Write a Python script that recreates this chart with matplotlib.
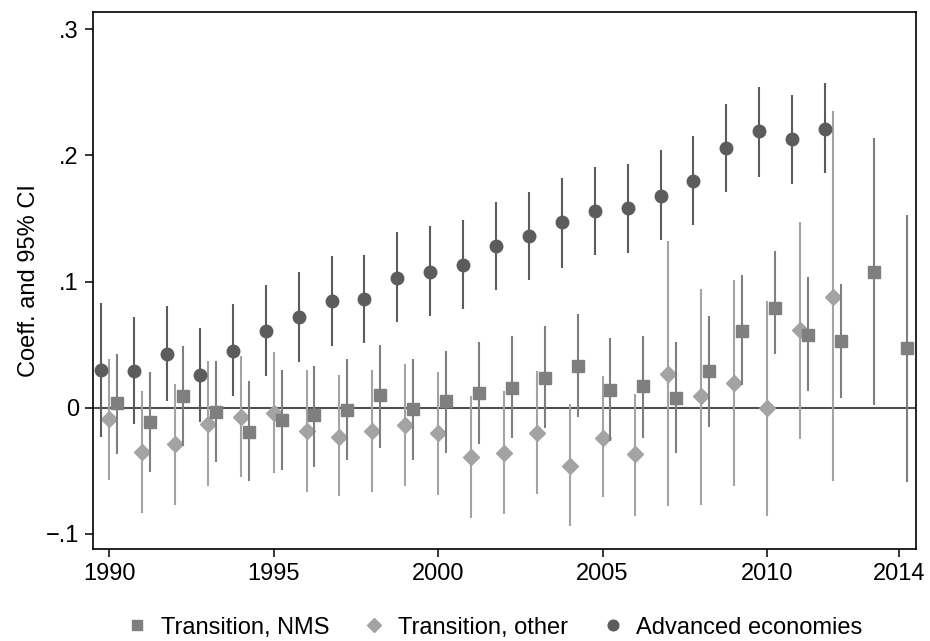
import numpy as np
import matplotlib
matplotlib.use('agg')
import matplotlib.pyplot as plt

plt.rcParams['font.family'] = ['Liberation Sans', 'DejaVu Sans']

# Advanced economies (circles), 1990-2012
adv_years = np.arange(1990, 2013)
adv_coef = [0.030, 0.029, 0.043, 0.026, 0.045, 0.061, 0.072, 0.085, 0.086, 0.103,
            0.108, 0.113, 0.128, 0.136, 0.147, 0.156, 0.158, 0.168, 0.180, 0.206,
            0.219, 0.213, 0.221]
adv_hi = [0.083, 0.072, 0.081, 0.063, 0.082, 0.097, 0.108, 0.120, 0.121, 0.139,
          0.144, 0.149, 0.163, 0.171, 0.182, 0.191, 0.193, 0.204, 0.215, 0.241,
          0.254, 0.248, 0.257]
adv_lo = [-0.023, -0.013, 0.005, -0.011, 0.009, 0.025, 0.036, 0.049, 0.051, 0.068,
          0.073, 0.078, 0.093, 0.101, 0.111, 0.121, 0.123, 0.133, 0.145, 0.171,
          0.183, 0.177, 0.186]

# Transition, NMS (squares), 1990-2014
nms_years = np.arange(1990, 2015)
nms_coef = [0.004, -0.011, 0.009, -0.003, -0.019, -0.010, -0.006, -0.002, 0.010, -0.001,
            0.005, 0.012, 0.016, 0.024, 0.033, 0.014, 0.017, 0.008, 0.029, 0.061,
            0.079, 0.058, 0.053, 0.108, 0.047]
nms_hi = [0.043, 0.028, 0.049, 0.037, 0.021, 0.030, 0.033, 0.039, 0.050, 0.039,
          0.045, 0.052, 0.057, 0.065, 0.074, 0.055, 0.057, 0.052, 0.073, 0.105,
          0.124, 0.104, 0.098, 0.214, 0.153]
nms_lo = [-0.037, -0.051, -0.030, -0.043, -0.058, -0.049, -0.047, -0.041, -0.032, -0.041,
          -0.036, -0.029, -0.024, -0.016, -0.007, -0.026, -0.024, -0.036, -0.015, 0.018,
          0.043, 0.013, 0.008, 0.002, -0.059]

# Transition, other (diamonds), 1990-2012
oth_years = np.arange(1990, 2013)
oth_coef = [-0.009, -0.035, -0.029, -0.013, -0.007, -0.004, -0.018, -0.023, -0.018, -0.014,
            -0.020, -0.039, -0.036, -0.020, -0.046, -0.024, -0.037, 0.027, 0.009, 0.020,
            0.000, 0.062, 0.088]
oth_hi = [0.039, 0.013, 0.019, 0.037, 0.041, 0.044, 0.030, 0.026, 0.030, 0.035,
          0.028, 0.009, 0.013, 0.029, 0.003, 0.025, 0.011, 0.132, 0.094, 0.101,
          0.085, 0.147, 0.235]
oth_lo = [-0.057, -0.083, -0.077, -0.062, -0.055, -0.052, -0.067, -0.070, -0.067, -0.062,
          -0.069, -0.087, -0.084, -0.068, -0.094, -0.071, -0.086, -0.078, -0.077, -0.062,
          -0.086, -0.025, -0.058]

xticks = [1990, 1995, 2000, 2005, 2010, 2014]
yticks = [-0.1, 0, 0.1, 0.2, 0.3]
ytick_labels = ['\u2212.1', '0', '.1', '.2', '.3']

fig = plt.figure(figsize=(9.3, 6.41), dpi=100)
ax = fig.add_axes([0.0997, 0.1435, 0.885, 0.8373])

c_nms = '#7f7f7f'
c_oth = '#a3a3a3'
c_adv = '#5c5c5c'

ax.axhline(0, color='#505050', lw=1.5, zorder=1)

def draw(years, coef, lo, hi, shift, marker, ms, color, z, label):
    x = np.asarray(years) + shift
    ax.vlines(x, lo, hi, color=color, lw=1.5, zorder=z)
    return ax.plot(x, coef, ls='none', marker=marker, ms=ms, color=color,
                   mec=color, zorder=z + 0.5, label=label)[0]

h_oth = draw(oth_years, oth_coef, oth_lo, oth_hi, 0.0, 'D', 8.0, c_oth, 2, 'Transition, other')
h_nms = draw(nms_years, nms_coef, nms_lo, nms_hi, 0.24, 's', 8.6, c_nms, 3, 'Transition, NMS')
h_adv = draw(adv_years, adv_coef, adv_lo, adv_hi, -0.24, 'o', 9.0, c_adv, 4, 'Advanced economies')

ax.set_xlim(1989.5, 2014.52)
ax.set_ylim(-0.1119, 0.3134)
ax.set_xticks(xticks)
ax.set_xticklabels([str(t) for t in xticks])
ax.set_yticks(yticks)
ax.set_yticklabels(ytick_labels)
ax.tick_params(labelsize=17, length=6, width=1.1, direction='out', pad=4)
for s in ax.spines.values():
    s.set_linewidth(1.2)
ax.set_ylabel('Coeff. and 95% CI', fontsize=17)

fig.legend([h_nms, h_oth, h_adv], ['Transition, NMS', 'Transition, other', 'Advanced economies'],
           loc='center', bbox_to_anchor=(0.531, 0.021), ncol=3, frameon=False,
           fontsize=17, handletextpad=0.5, columnspacing=1.4, handlelength=1.0,
           markerscale=0.85, borderaxespad=0)

fig.savefig('out.png', dpi=100)
